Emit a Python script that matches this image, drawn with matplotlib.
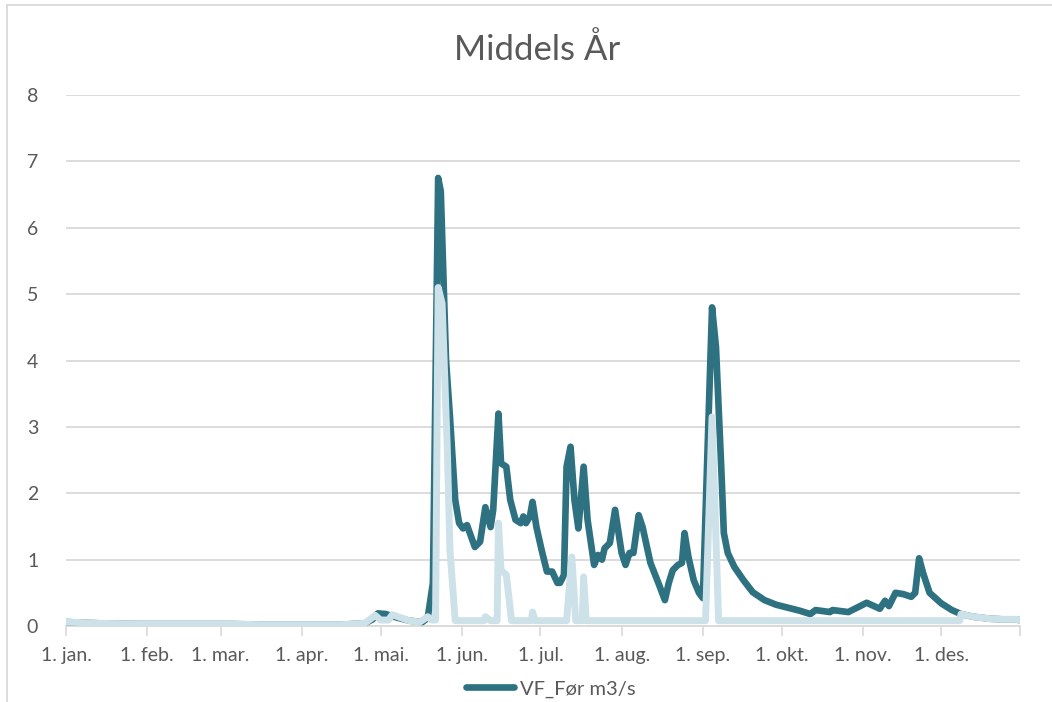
import matplotlib
matplotlib.use("Agg")
from matplotlib import pyplot as plt
from matplotlib.patches import Rectangle

# day of year (0 = 1. jan.) and flow at the line vertices
dark_days = [0, 13, 28, 63, 74, 105, 114, 117, 119, 122, 125, 131, 136, 138, 140,
             142, 143, 145, 146.5, 148.5, 150, 151.5, 153, 156, 158, 160, 162, 163,
             165, 166, 168, 169.5, 171.5, 173.5, 174.5, 175.5, 177, 178, 179.5, 181.5,
             183.5, 185.5, 187.5, 188.5, 190, 191, 192.5, 194, 195.5, 197.5, 199,
             201.5, 203, 204.5, 205.5, 207.5, 209.5, 212, 213.5, 215, 216.5, 218.5,
             220, 223, 226, 228.5, 230, 231.5, 233.5, 235, 236, 237.5, 239.5, 241.5,
             243, 246.5, 248, 250, 251, 252.5, 255, 258.5, 262, 266.5, 271, 276, 280,
             284, 286, 291.5, 292.5, 298.5, 301.5, 305.5, 310.5, 312.5, 314, 316.5,
             319.5, 322.5, 324, 325.5, 327, 329.5, 334, 338, 341.5, 346, 352.5, 357.5,
             363, 364]
dark_flow = [0.06, 0.04, 0.03, 0.03, 0.02, 0.02, 0.04, 0.1, 0.19, 0.18, 0.14, 0.08,
             0.06, 0.12, 0.65, 6.75, 6.55, 4.0, 3.15, 1.9, 1.55, 1.47, 1.52, 1.19, 1.27,
             1.79, 1.49, 1.75, 3.2, 2.45, 2.4, 1.9, 1.6, 1.55, 1.65, 1.55, 1.65, 1.87,
             1.49, 1.14, 0.82, 0.82, 0.65, 0.65, 0.77, 2.4, 2.7, 1.9, 1.47, 2.4, 1.6,
             0.92, 1.07, 1.0, 1.17, 1.25, 1.75, 1.1, 0.92, 1.1, 1.1, 1.67, 1.49, 0.95,
             0.65, 0.39, 0.65, 0.84, 0.92, 0.95, 1.4, 1.04, 0.69, 0.5, 0.42, 4.8, 4.2,
             2.4, 1.4, 1.1, 0.89, 0.69, 0.51, 0.39, 0.32, 0.27, 0.23, 0.18, 0.24, 0.21,
             0.24, 0.21, 0.27, 0.35, 0.26, 0.38, 0.3, 0.5, 0.48, 0.44, 0.5, 1.02, 0.8,
             0.5, 0.34, 0.24, 0.18, 0.14, 0.11, 0.1, 0.1, 0.08]

light_days = [0, 13, 28, 63, 74, 105, 114, 118, 120, 123, 124.5, 131, 135, 138,
              139.5, 141, 142, 143.5, 145.5, 146.5, 148.5, 159.5, 160, 162, 164.5,
              165, 166, 168, 170, 177.5, 178, 179, 191, 193, 194.5, 197, 197.5, 198.5,
              244, 246.5, 249, 341, 341.5, 346, 352.5, 357.5, 363, 364]
light_flow = [0.06, 0.04, 0.03, 0.03, 0.02, 0.02, 0.04, 0.16, 0.09, 0.09, 0.17, 0.08,
              0.06, 0.14, 0.09, 0.09, 5.1, 4.86, 2.65, 1.14, 0.08, 0.08, 0.14, 0.08,
              0.08, 1.55, 0.84, 0.77, 0.08, 0.08, 0.21, 0.08, 0.08, 1.04, 0.08, 0.08,
              0.74, 0.08, 0.08, 3.15, 0.08, 0.08, 0.18, 0.14, 0.11, 0.1, 0.1, 0.08]

month_days = [0, 31, 59, 90, 120, 151, 181, 212, 243, 273, 304, 334]
month_labels = ['1. jan.', '1. feb.', '1. mar.', '1. apr.', '1. mai.', '1. jun.',
                '1. jul.', '1. aug.', '1. sep.', '1. okt.', '1. nov.', '1. des.']

plt.rcParams['font.family'] = ['Lato', 'DejaVu Sans']
text_col = '#595959'
grid_col = '#D9D9D9'

fig = plt.figure(figsize=(10.52, 7.02), dpi=100)
ax = fig.add_axes([66/1052, 1-626/702, (1020-66)/1052, (626-95)/702])

ax.plot(dark_days, dark_flow, color='#2E7282', lw=4.8, solid_joinstyle='round',
        solid_capstyle='round', label='VF_Før m3/s', zorder=3)
ax.plot(light_days, light_flow, color='#CDE1E8', lw=5.0, solid_joinstyle='round',
        solid_capstyle='round', zorder=4)

ax.set_xlim(0, 364)
ax.set_ylim(0, 8)
ax.set_yticks(range(0, 9))
ax.yaxis.grid(True, color=grid_col, lw=1.3)
ax.set_axisbelow(True)
ax.tick_params(axis='y', length=0, pad=20, labelsize=14, labelcolor=text_col)

ax.set_xticks(month_days + [364])
ax.set_xticklabels(month_labels + [''])
ax.tick_params(axis='x', length=7, width=1.2, color=grid_col, pad=8,
               labelsize=14, labelcolor=text_col)

for s in ['top', 'right', 'left']:
    ax.spines[s].set_visible(False)
ax.spines['bottom'].set_color(grid_col)
ax.spines['bottom'].set_linewidth(1.3)

fig.text(537/1052, 1-50/702, 'Middels År', ha='center', va='center',
         fontsize=25, color=text_col)

leg = fig.legend(loc='center', bbox_to_anchor=(551/1052, 1-689/702), frameon=False,
                 fontsize=14.5, handlelength=2.4, handletextpad=0.3)
for t in leg.get_texts():
    t.set_color(text_col)

# chart area border (only top/left visible in the crop)
fig.add_artist(Rectangle((7/1052, -0.1), 1.2, 1-5/702+0.1, transform=fig.transFigure,
                         fill=False, edgecolor=grid_col, lw=1.3))

fig.savefig('out.png', dpi=100)
